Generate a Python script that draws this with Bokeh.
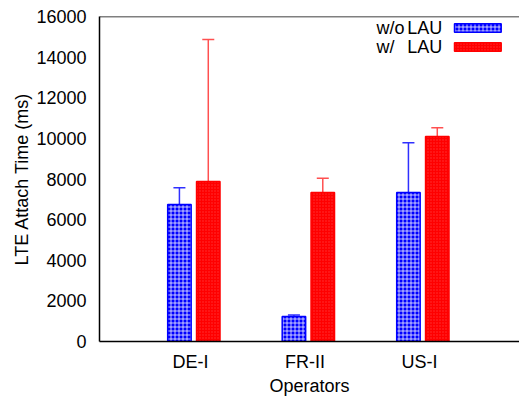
from bokeh.plotting import figure
from bokeh.models import (ColumnDataSource, FixedTicker, Whisker, TeeHead, Range1d, Span)
from bokeh.transform import dodge
from bokeh.core.properties import value
from bokeh.embed import file_html
from bokeh.resources import INLINE

# ---- data ----
operators = ["DE-I", "FR-II", "US-I"]
without_lau = [6750, 1230, 7330]
without_lau_low = [5860, 1100, 6550]
without_lau_high = [7570, 1310, 9790]
with_lau = [7880, 7330, 10090]
with_lau_low = [7390, 6590, 9650]
with_lau_high = [14870, 8040, 10520]
y_ticks = [0, 2000, 4000, 6000, 8000, 10000, 12000, 14000, 16000]
legend_labels = ["w/o", "w/"]
legend_unit = "LAU"

FONT = "Liberation Sans"
FS = "18px"
BLUE = "#0000ff"
RED = "#ff0000"

xs = list(range(len(operators)))
src = ColumnDataSource(dict(
    x=xs, wo=without_lau, wo_lo=without_lau_low, wo_hi=without_lau_high,
    w=with_lau, w_lo=with_lau_low, w_hi=with_lau_high,
))

x0, x1 = -0.795, 2.873
y0, y1 = 0, 16000
p = figure(width=519, height=398, x_range=Range1d(x0, x1), y_range=Range1d(y0, y1),
           output_backend="svg", toolbar_location=None,
           min_border_left=99, min_border_right=0, min_border_top=16, min_border_bottom=57)
p.outline_line_color = None
p.xgrid.visible = False
p.ygrid.visible = False
p.background_fill_color = "white"
p.border_fill_color = "white"

OFF_WO, OFF_W, BW = -0.097, 0.155, 0.205
BLUE_HATCH = dict(hatch_pattern="cross", hatch_color="white", hatch_scale=4, hatch_weight=1, hatch_alpha=0.75)
RED_HATCH = dict(hatch_pattern="dot", hatch_color="#ff8080", hatch_scale=3, hatch_weight=1, hatch_alpha=0.4)

p.vbar(x=dodge("x", OFF_WO), top="wo", bottom=0, width=BW, source=src,
       fill_color=BLUE, line_color=BLUE, line_width=1.5, **BLUE_HATCH)
p.vbar(x=dodge("x", OFF_W), top="w", bottom=0, width=BW, source=src,
       fill_color=RED, line_color=RED, line_width=1.5, **RED_HATCH)

for off, lo, hi, col in [(OFF_WO, "wo_lo", "wo_hi", "#3030ff"), (OFF_W, "w_lo", "w_hi", "#ff5050")]:
    wk = Whisker(base=dodge("x", off), lower=lo, upper=hi, source=src, line_color=col, line_width=1.5,
                 upper_head=TeeHead(size=12, line_color=col, line_width=1.5),
                 lower_head=TeeHead(size=12, line_color=col, line_width=1.5))
    p.add_layout(wk)

# top frame line
p.add_layout(Span(location=y1, dimension="width", line_color="black", line_width=1.5))

# axes
for ax in (p.xaxis[0], p.yaxis[0]):
    ax.axis_line_color = "black"
    ax.axis_line_width = 1.5
    ax.major_tick_in = 0
    ax.major_tick_out = 0
    ax.minor_tick_line_color = None
    ax.major_label_text_font = FONT
    ax.major_label_text_font_size = FS
    ax.major_label_text_color = "black"
    ax.axis_label_text_font = FONT
    ax.axis_label_text_font_size = FS
    ax.axis_label_text_font_style = "normal"
    ax.axis_label_text_color = "black"

p.xaxis.ticker = FixedTicker(ticks=xs)
p.xaxis.major_label_overrides = {i: n for i, n in enumerate(operators)}
p.xaxis.axis_label = "Operators"
p.xaxis.major_label_standoff = 10
p.xaxis.axis_label_standoff = 1
p.yaxis.ticker = FixedTicker(ticks=y_ticks)
p.yaxis.axis_label = "LTE Attach Time (ms)"
p.yaxis.major_label_standoff = 13
p.yaxis.axis_label_standoff = 1

# legend (key at top right), positioned in pixel terms of the frame
fw, fh = 420, 325
def px_x(px):
    return x0 + (px - 99) / fw * (x1 - x0)
def px_y(py):
    return y0 + (341 - py) / fh * (y1 - y0)

rows = [(27.5, BLUE, BLUE_HATCH), (46.5, RED, RED_HATCH)]
for (cy, fc, hatch), lab in zip(rows, legend_labels):
    p.quad(left=px_x(454), right=px_x(500.7), top=px_y(cy - 4.3), bottom=px_y(cy + 4.3),
           fill_color=fc, line_color=fc, line_width=1.5, **hatch)
    p.text(x=[px_x(376)], y=[px_y(cy)], text=[lab], text_font=value(FONT), text_font_size=FS,
           text_align="left", text_baseline="middle", text_color="black")
    p.text(x=[px_x(441.7)], y=[px_y(cy)], text=[legend_unit], text_font=value(FONT), text_font_size=FS,
           text_align="right", text_baseline="middle", text_color="black")

open("out.html", "w").write(file_html(p, INLINE))
